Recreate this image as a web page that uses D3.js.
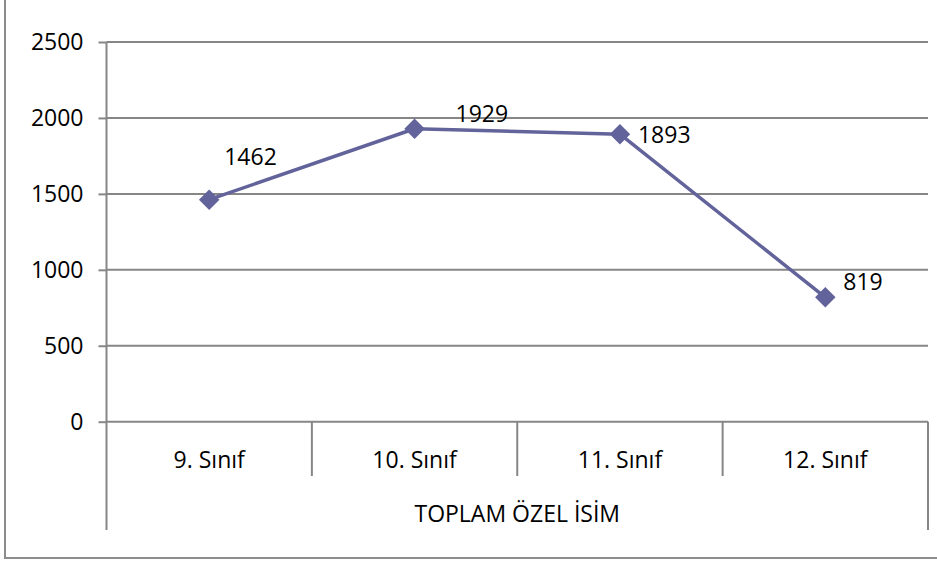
<!DOCTYPE html>
<html>
<head>
<meta charset="utf-8">
<script src="https://cdn.jsdelivr.net/npm/d3@7"></script>
<style>
  html, body { margin: 0; padding: 0; background: #fff; }
  svg { display: block; }
  text { font-family: "Open Sans", "Liberation Sans", sans-serif; fill: #000; }
</style>
</head>
<body>
<svg id="chart" width="937" height="562"></svg>
<script>
const categories = ["9. Sınıf", "10. Sınıf", "11. Sınıf", "12. Sınıf"];
const values = [1462, 1929, 1893, 819];
const yTicks = [0, 500, 1000, 1500, 2000, 2500];
const groupLabel = "TOPLAM ÖZEL İSİM";

(function () {
const svg = d3.select("#chart");
const W = 937;
const pL = 106.5, pR = 928, pT = 42, pB = 421.7;
const gridColor = "#868686";
const lineColor = "#63639b";
const fontSize = 23;

// outer frame (left and bottom visible)
svg.append("path")
  .attr("d", `M5,0 V558 H${W}`)
  .attr("fill", "none").attr("stroke", "#8c8c8c").attr("stroke-width", 2);

const x = d3.scaleBand().domain(categories).range([pL, pR]).paddingInner(0).paddingOuter(0);
const y = d3.scaleLinear().domain([0, 2500]).range([pB, pT]);

// gridlines
svg.append("g").selectAll("line").data(yTicks).join("line")
  .attr("x1", pL).attr("x2", pR)
  .attr("y1", d => y(d)).attr("y2", d => y(d))
  .attr("stroke", gridColor).attr("stroke-width", 2);

// y axis with ticks
const yAxis = d3.axisLeft(y).tickValues(yTicks).tickSize(8).tickPadding(15).tickFormat(d3.format("d"));
const gy = svg.append("g").attr("transform", `translate(${pL},0)`).call(yAxis);
gy.select(".domain").remove();
gy.selectAll(".tick line").attr("stroke", gridColor).attr("stroke-width", 2);
gy.selectAll(".tick text").attr("font-size", fontSize).attr("font-family", "Open Sans, sans-serif").attr("fill", "#000");

// left axis vertical line
svg.append("line").attr("x1", pL).attr("x2", pL).attr("y1", pT).attr("y2", 530)
  .attr("stroke", gridColor).attr("stroke-width", 2);
// right outer category divider
svg.append("line").attr("x1", pR).attr("x2", pR).attr("y1", pB).attr("y2", 530)
  .attr("stroke", gridColor).attr("stroke-width", 2);
// inner category dividers
svg.append("g").selectAll("line").data(categories.slice(1)).join("line")
  .attr("x1", d => x(d)).attr("x2", d => x(d))
  .attr("y1", pB).attr("y2", 476)
  .attr("stroke", gridColor).attr("stroke-width", 2);

// category labels
svg.append("g").selectAll("text").data(categories).join("text")
  .attr("x", d => x(d) + x.bandwidth() / 2)
  .attr("y", 468)
  .attr("text-anchor", "middle")
  .attr("font-size", fontSize)
  .text(d => d);

svg.append("text")
  .attr("x", (pL + pR) / 2)
  .attr("y", 522)
  .attr("text-anchor", "middle")
  .attr("font-size", fontSize)
  .text(groupLabel);

// line series
const pts = categories.map((c, i) => ({ c, v: values[i] }));
const cx = d => x(d.c) + x.bandwidth() / 2;
const line = d3.line().x(cx).y(d => y(d.v));
svg.append("path").datum(pts)
  .attr("d", line)
  .attr("fill", "none").attr("stroke", lineColor).attr("stroke-width", 3.5)
  .attr("stroke-linejoin", "round");

// diamond markers
svg.append("g").selectAll("path").data(pts).join("path")
  .attr("d", d3.symbol().type(d3.symbolSquare).size(210))
  .attr("transform", d => `translate(${cx(d)},${y(d.v)}) rotate(45)`)
  .attr("fill", lineColor);

// data labels
const labelOffsets = [[15, -35], [41, -7], [18, 9], [18, -7]];
svg.append("g").selectAll("text").data(pts).join("text")
  .attr("x", (d, i) => cx(d) + labelOffsets[i][0])
  .attr("y", (d, i) => y(d.v) + labelOffsets[i][1])
  .attr("font-size", fontSize)
  .text(d => d.v);
})();
</script>
</body>
</html>
